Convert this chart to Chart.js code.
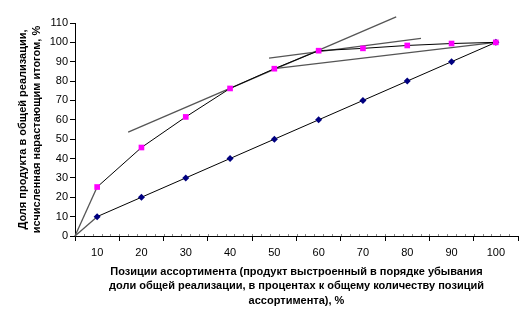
<!DOCTYPE html>
<html>
<head>
<meta charset="utf-8">
<script src="https://cdn.jsdelivr.net/npm/chart.js@4.4.1/dist/chart.umd.min.js"></script>
<style>
  html, body { margin: 0; padding: 0; background: #fff; }
  #wrap { position: relative; width: 531px; height: 326px; }
</style>
</head>
<body>
<div id="wrap"><canvas id="chart"></canvas></div>
<script>
// позиции ассортимента, %
const positions = [10, 20, 30, 40, 50, 60, 70, 80, 90, 100];
// доля в реализации нарастающим итогом, %
const shareCumulative = [25.3, 45.7, 61.5, 76.2, 86.4, 95.7, 96.9, 98.4, 99.4, 100];
// равномерное распределение
const shareUniform = [10, 20, 30, 40, 50, 60, 70, 80, 90, 100];
const yTicks = [0, 10, 20, 30, 40, 50, 60, 70, 80, 90, 100, 110];

// вспомогательные линии: от начала координат и касательные
const originX = 5;
const tangentA = [[17.0, 53.6], [77.5, 113.2]];
const tangentB = [[48.8, 91.9], [83.1, 102.1]];
const chord = [[50, 86.4], [100, 100]];

const FONT = "Arial, 'Liberation Sans', sans-serif";

const toXY = (xs, ys) => xs.map((x, i) => ({ x: x, y: ys[i] }));
const segment = (pts) => pts.map((p) => ({ x: p[0], y: p[1] }));

const helperLine = (data) => ({
  data: data,
  borderColor: "#555",
  borderWidth: 1.3,
  pointRadius: 0,
  fill: false,
  clip: false,
  order: 5,
});

// мелкие засечки на оси X
const minorTicks = {
  id: "minorTicks",
  afterDraw(chart) {
    const x = chart.scales.x;
    const ctx = chart.ctx;
    ctx.save();
    ctx.strokeStyle = "#888";
    ctx.lineWidth = 1;
    for (let v = 7; v < 105; v += 2) {
      const px = Math.round(x.getPixelForValue(v)) + 0.5;
      ctx.beginPath();
      ctx.moveTo(px, x.top - 2);
      ctx.lineTo(px, x.top);
      ctx.stroke();
    }
    ctx.restore();
  },
};

new Chart(document.getElementById("chart"), {
  type: "line",
  data: {
    datasets: [
      {
        data: toXY(positions, shareCumulative),
        borderColor: "#000",
        borderWidth: 1,
        pointStyle: "rect",
        pointRadius: 4,
        pointBorderWidth: 0,
        pointBackgroundColor: "#ff00ff",
        order: 1,
      },
      {
        data: toXY(positions, shareUniform),
        borderColor: "#000",
        borderWidth: 1,
        pointStyle: "rectRot",
        pointRadius: 3.5,
        pointBorderWidth: 0,
        pointBackgroundColor: "#000080",
        order: 2,
      },
      helperLine([{ x: originX, y: 0 }, { x: positions[0], y: shareCumulative[0] }]),
      helperLine([{ x: originX, y: 0 }, { x: positions[0], y: shareUniform[0] }]),
      helperLine(segment(tangentA)),
      helperLine(segment(tangentB)),
      helperLine(segment(chord)),
    ],
  },
  options: {
    responsive: true,
    maintainAspectRatio: false,
    animation: false,
    layout: { padding: { top: 23, right: 13, bottom: 0, left: 0 } },
    plugins: {
      legend: { display: false },
      tooltip: { enabled: false },
    },
    scales: {
      x: {
        type: "linear",
        min: 5,
        max: 105,
        afterBuildTicks: (scale) => {
          scale.ticks = positions.map((v) => ({ value: v }));
        },
        afterFit: (scale) => {
          scale.height = 90;
        },
        grid: {
          display: true,
          drawOnChartArea: false,
          offset: true,
          tickLength: 5,
          color: "#000",
        },
        border: { display: true, color: "#000" },
        ticks: {
          color: "#000",
          padding: 5,
          maxRotation: 0,
          autoSkip: false,
          font: { family: FONT, size: 11 },
        },
        title: {
          display: true,
          text: [
            "Позиции ассортимента (продукт выстроенный в порядке убывания",
            "доли общей реализации, в процентах к общему количеству позиций",
            "ассортимента), %",
          ],
          color: "#000",
          padding: { top: 0, bottom: 18 },
          font: { family: FONT, size: 11, weight: "bold", lineHeight: 1.32 },
        },
      },
      y: {
        type: "linear",
        min: 0,
        max: 110,
        afterBuildTicks: (scale) => {
          scale.ticks = yTicks.map((v) => ({ value: v }));
        },
        afterFit: (scale) => {
          scale.width = 75;
        },
        grid: {
          display: true,
          drawOnChartArea: false,
          tickLength: 5,
          color: "#000",
        },
        border: { display: true, color: "#000" },
        ticks: {
          color: "#000",
          padding: 2,
          font: { family: FONT, size: 11 },
        },
        title: {
          display: true,
          text: [
            "Доля продукта в общей реализации,",
            "исчисленная нарастающим итогом, %",
          ],
          color: "#000",
          padding: { top: 16, bottom: 0 },
          font: { family: FONT, size: 11, weight: "bold", lineHeight: 1.27 },
        },
      },
    },
  },
  plugins: [minorTicks],
});
</script>
</body>
</html>
